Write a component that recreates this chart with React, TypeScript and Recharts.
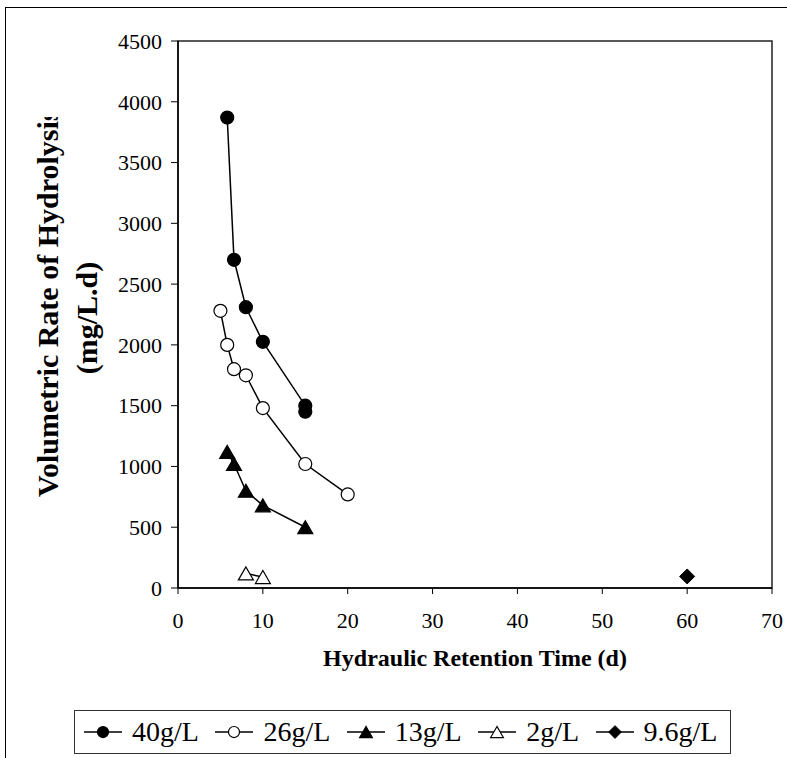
import { LineChart, Line, XAxis, YAxis, Legend, ReferenceArea } from 'recharts';

// HRT (d) and volumetric hydrolysis rate (mg/L.d) per feed concentration
const hrt40 = [5.8, 6.6, 8, 10, 15, 15];
const rate40 = [3870, 2700, 2310, 2025, 1500, 1450];
const hrt26 = [5, 5.8, 6.6, 8, 10, 15, 20];
const rate26 = [2280, 2000, 1800, 1750, 1480, 1020, 770];
const hrt13 = [5.8, 6.6, 8, 10, 15];
const rate13 = [1120, 1020, 800, 680, 500];
const hrt2 = [8, 10];
const rate2 = [120, 90];
const hrt96 = [60];
const rate96 = [95];

const xTicks = [0, 10, 20, 30, 40, 50, 60, 70];
const yTicks = [0, 500, 1000, 1500, 2000, 2500, 3000, 3500, 4000, 4500];

const FONT = "'Liberation Serif', 'Times New Roman', serif";

type Shape = 'circle' | 'triangle' | 'diamond';

const series: { name: string; xs: number[]; ys: number[]; shape: Shape; filled: boolean }[] = [
  { name: '40g/L', xs: hrt40, ys: rate40, shape: 'circle', filled: true },
  { name: '26g/L', xs: hrt26, ys: rate26, shape: 'circle', filled: false },
  { name: '13g/L', xs: hrt13, ys: rate13, shape: 'triangle', filled: true },
  { name: '2g/L', xs: hrt2, ys: rate2, shape: 'triangle', filled: false },
  { name: '9.6g/L', xs: hrt96, ys: rate96, shape: 'diamond', filled: true },
];

const Marker = ({ cx, cy, shape, filled, s = 1 }: { cx: number; cy: number; shape: Shape; filled: boolean; s?: number }) => {
  const fill = filled ? '#000' : '#fff';
  if (shape === 'circle') {
    return <circle cx={cx} cy={cy} r={6.5 * s} fill={fill} stroke="#000" strokeWidth={1.2} />;
  }
  if (shape === 'triangle') {
    const w = 7.5 * s;
    const h = 6.5 * s;
    return (
      <polygon
        points={`${cx},${cy - h} ${cx - w},${cy + h} ${cx + w},${cy + h}`}
        fill={fill}
        stroke="#000"
        strokeWidth={1.2}
      />
    );
  }
  const d = 7.5 * s;
  return <polygon points={`${cx},${cy - d} ${cx + d},${cy} ${cx},${cy + d} ${cx - d},${cy}`} fill={fill} stroke="#000" strokeWidth={1} />;
};

const XTick = ({ x, y, payload }: any) => (
  <text x={x} y={y} dy="0.71em" textAnchor="middle" fontFamily={FONT} fontSize={22} fill="#000">
    {payload.value}
  </text>
);

const YTick = ({ x, y, payload }: any) => (
  <text x={x} y={y} dy="0.355em" textAnchor="end" fontFamily={FONT} fontSize={22} fill="#000">
    {payload.value}
  </text>
);

const YTitle = (props: any) => {
  const vb = props.viewBox || { x: 0, y: 41, width: 178, height: 547 };
  return (
    <g>
      <defs>
        <clipPath id="ytitle-clip">
          <rect x={0} y={117} width={vb.width} height={500} />
        </clipPath>
      </defs>
      <g clipPath="url(#ytitle-clip)">
        <text
          transform="translate(48, 497) rotate(-90)"
          x={0}
          y={10}
          textAnchor="start"
          fontFamily={FONT}
          fontWeight="bold"
          fontSize={30}
          fill="#000"
        >
          Volumetric Rate of Hydrolysis
        </text>
      </g>
      <text
        transform="translate(87, 318) rotate(-90)"
        x={0}
        y={10}
        textAnchor="middle"
        fontFamily={FONT}
        fontWeight="bold"
        fontSize={30}
        fill="#000"
      >
        (mg/L.d)
      </text>
    </g>
  );
};

const XTitle = (props: any) => {
  const vb = props.viewBox;
  return (
    <text
      x={vb.x + vb.width / 2}
      y={vb.y + 78}
      textAnchor="middle"
      fontFamily={FONT}
      fontWeight="bold"
      fontSize={24}
      fill="#000"
    >
      Hydraulic Retention Time (d)
    </text>
  );
};

const LegendBox = () => (
  <div
    style={{
      boxSizing: 'border-box',
      width: '100%',
      height: '100%',
      border: '1.5px solid #333',
      background: '#fff',
      display: 'flex',
      alignItems: 'center',
      paddingLeft: 9,
      fontFamily: FONT,
      fontSize: 28,
      color: '#000',
      whiteSpace: 'nowrap',
    }}
  >
    {series.map((s) => (
      <div key={s.name} style={{ display: 'flex', alignItems: 'center', marginRight: 16.5 }}>
        <svg width={38} height={20} style={{ marginRight: 10 }}>
          <line x1={0} y1={10} x2={38} y2={10} stroke="#000" strokeWidth={1.5} />
          <Marker cx={19} cy={10} shape={s.shape} filled={s.filled} s={0.85} />
        </svg>
        <span>{s.name}</span>
      </div>
    ))}
  </div>
);

const App = () => {
  return (
    <div
      style={{
        position: 'absolute',
        left: 0,
        top: 0,
        width: 787,
        height: 758,
        overflow: 'hidden',
        background: '#fff',
        fontFamily: FONT,
      }}
    >
      <div
        style={{
          position: 'absolute',
          left: 5,
          top: 7,
          width: 900,
          height: 900,
          border: '1.5px solid #000',
        }}
      />
      <div style={{ position: 'absolute', left: 0, top: 0 }}>
        <LineChart width={787} height={758} margin={{ top: 41, right: 15, bottom: 130, left: 0 }}>
          <XAxis
            dataKey="x"
            type="number"
            domain={[0, 70]}
            ticks={xTicks}
            interval={0}
            height={40}
            tickSize={6}
            tickMargin={18}
            axisLine={{ stroke: '#000', strokeWidth: 1.5 }}
            tickLine={{ stroke: '#000' }}
            tick={<XTick />}
            label={<XTitle />}
          />
          <YAxis
            dataKey="y"
            type="number"
            domain={[0, 4500]}
            ticks={yTicks}
            interval={0}
            width={178}
            tickSize={7}
            tickMargin={9}
            axisLine={{ stroke: '#000', strokeWidth: 1.5 }}
            tickLine={{ stroke: '#000' }}
            tick={<YTick />}
            label={<YTitle />}
          />
          <ReferenceArea x1={0} x2={70} y1={0} y2={4500} fill="none" stroke="#222" strokeWidth={1.5} ifOverflow="visible" />
          {series.map((s) => (
            <Line
              key={s.name}
              name={s.name}
              data={s.xs.map((x, i) => ({ x, y: s.ys[i] }))}
              dataKey="y"
              type="linear"
              stroke="#000"
              strokeWidth={1.5}
              activeDot={false}
              isAnimationActive={false}
              dot={(p: any) => <Marker key={`${s.name}-${p.index}`} cx={p.cx} cy={p.cy} shape={s.shape} filled={s.filled} />}
            />
          ))}
          <Legend
            layout="horizontal"
            verticalAlign="middle"
            align="center"
            content={() => <LegendBox />}
            wrapperStyle={{ position: 'absolute', left: 74, top: 710, width: 657, height: 44 }}
          />
        </LineChart>
      </div>
    </div>
  );
};

export default App;
